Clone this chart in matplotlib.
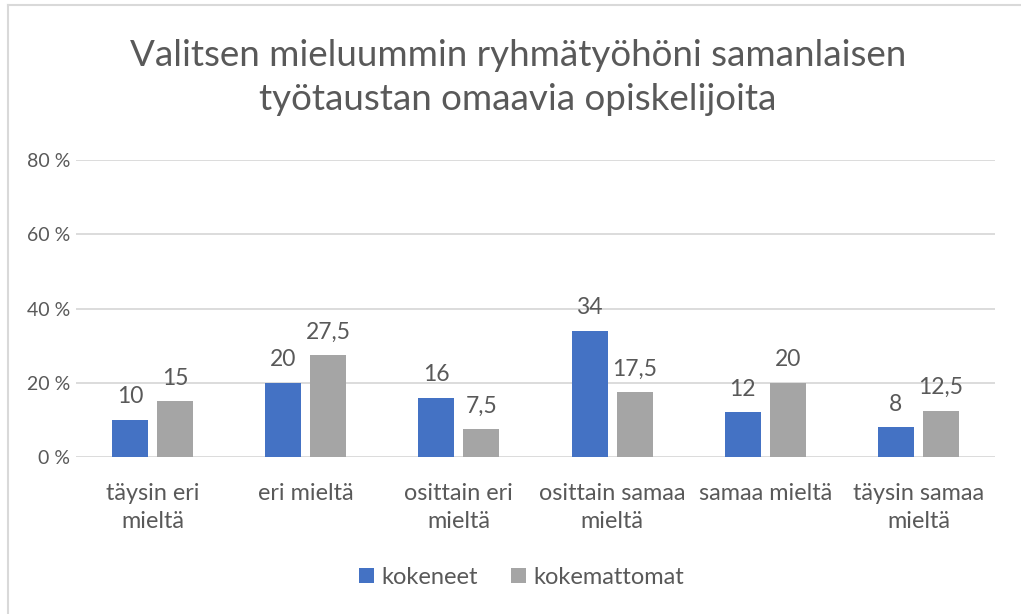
import matplotlib
matplotlib.use("Agg")
import matplotlib.pyplot as plt
import numpy as np

categories = ["täysin eri\nmieltä", "eri mieltä", "osittain eri\nmieltä",
              "osittain samaa\nmieltä", "samaa mieltä", "täysin samaa\nmieltä"]
kokeneet = [10, 20, 16, 34, 12, 8]
kokemattomat = [15, 27.5, 7.5, 17.5, 20, 12.5]
kokeneet_labels = ["10", "20", "16", "34", "12", "8"]
kokemattomat_labels = ["15", "27,5", "7,5", "17,5", "20", "12,5"]
yticks = [0, 20, 40, 60, 80]
ytick_labels = ["0 %", "20 %", "40 %", "60 %", "80 %"]
title = "Valitsen mieluummin ryhmätyöhöni samanlaisen\ntyötaustan omaavia opiskelijoita"

plt.rcParams['font.family'] = ['Lato', 'DejaVu Sans']
txt = "#595959"
blue = "#4472C4"
gray = "#A5A5A5"

W, H = 1021, 614
fig = plt.figure(figsize=(W/100, H/100), dpi=100)
ax = fig.add_axes([76/W, (H-457)/H, (995-76)/W, (457-160)/H])

x = np.arange(len(categories))
bw = 0.235
off = 0.147
b1 = ax.bar(x - off, kokeneet, bw, color=blue, label="kokeneet", zorder=3)
b2 = ax.bar(x + off, kokemattomat, bw, color=gray, label="kokemattomat", zorder=3)
for bars, labs in ((b1, kokeneet_labels), (b2, kokemattomat_labels)):
    for r, l in zip(bars, labs):
        ax.annotate(l, (r.get_x() + r.get_width()/2, r.get_height()),
                    xytext=(0, 9), textcoords="offset points",
                    ha="center", va="bottom", fontsize=16.5, color=txt)

ax.set_xlim(-0.5, len(categories) - 0.5)
ax.set_ylim(0, 80)
ax.set_yticks(yticks)
ax.set_yticklabels(ytick_labels)
ax.set_xticks(x)
ax.set_xticklabels(categories, linespacing=1.4)
ax.tick_params(axis="y", length=0, pad=4, labelsize=14, labelcolor=txt)
ax.tick_params(axis="x", length=0, pad=19, labelsize=16.8, labelcolor=txt)
ax.grid(axis="y", color="#D9D9D9", linewidth=1.3, zorder=0)
for s in ax.spines.values():
    s.set_visible(False)

fig.text(518/W, 1 - 77.5/H, title, ha="center", va="center", fontsize=26.5,
         color=txt, linespacing=1.4)

fig.legend(handles=[b1, b2], labels=["kokeneet", "kokemattomat"],
           loc="center", bbox_to_anchor=(522/W, 1 - 577/H), ncol=2,
           frameon=False, fontsize=17, labelcolor=txt,
           handlelength=0.6, handleheight=0.6, handletextpad=0.35,
           columnspacing=1.4)

# chart border (top and left visible)
fig.add_artist(plt.Line2D([8/W, 1], [1 - 5/H, 1 - 5/H], color="#D9D9D9", lw=1.5))
fig.add_artist(plt.Line2D([8/W, 8/W], [0, 1 - 5/H], color="#D9D9D9", lw=1.5))

fig.savefig("out.png", dpi=100)
